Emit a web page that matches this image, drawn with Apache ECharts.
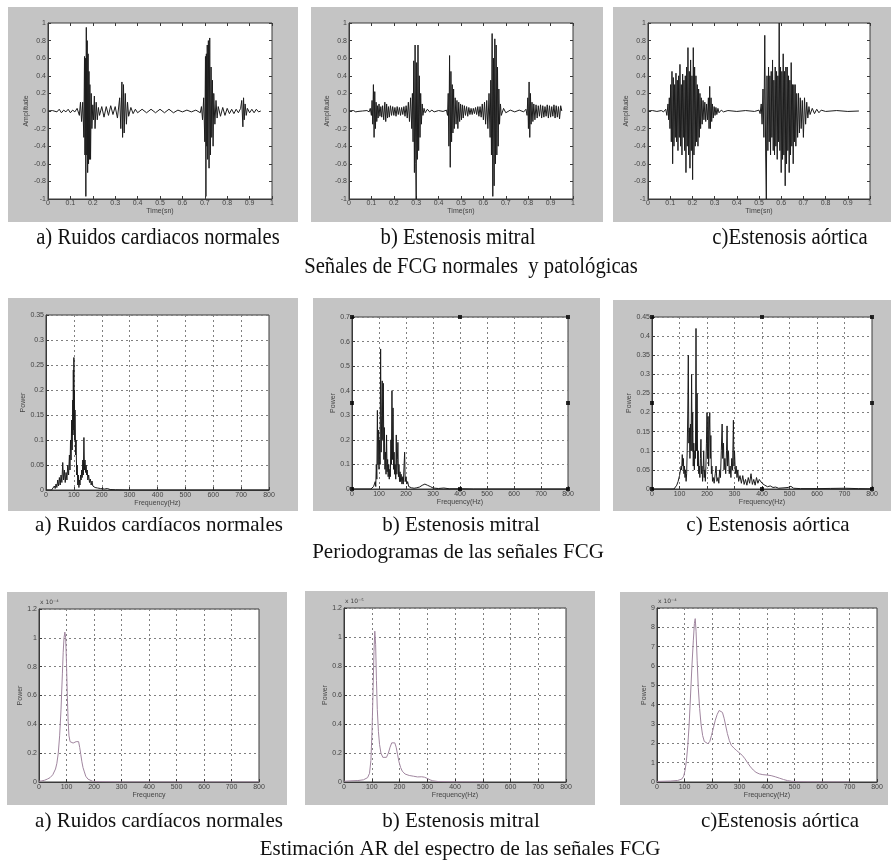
<!DOCTYPE html>
<html><head><meta charset="utf-8">
<script src="https://cdn.jsdelivr.net/npm/echarts/dist/echarts.min.js"></script>
<style>html,body{margin:0;padding:0;background:#fff}#c{width:891px;height:860px}</style>
</head><body><div id="c"></div>
<script>
// ---------- DATA ----------
// Row 1: phonocardiogram signals [time (s), amplitude]
const sigNormal = [[0,0],[0.02,0.005],[0.04,-0.01],[0.05,0.02],[0.06,-0.02],[0.07,0.01],[0.08,-0.01],[0.09,0.02],[0.1,-0.02],[0.11,0.01],[0.12,-0.01],[0.13,0.03],[0.14,-0.05],[0.145,0.1],[0.15,-0.12],[0.155,0.1],[0.16,-0.3],[0.163,0.62],[0.165,-0.5],[0.167,0.6],[0.169,-0.97],[0.171,0.95],[0.173,-0.5],[0.175,0.8],[0.177,-0.7],[0.179,0.65],[0.181,-0.6],[0.183,0.45],[0.185,-0.55],[0.187,0.3],[0.19,-0.55],[0.193,0.2],[0.196,-0.2],[0.2,0.07],[0.203,-0.1],[0.207,0.17],[0.21,-0.2],[0.215,0.1],[0.22,-0.1],[0.225,0.04],[0.23,-0.05],[0.24,0.05],[0.25,-0.07],[0.26,0.05],[0.27,-0.05],[0.28,0.06],[0.29,-0.04],[0.3,0.05],[0.31,-0.08],[0.32,0.15],[0.325,-0.2],[0.33,0.33],[0.333,-0.3],[0.337,0.3],[0.34,-0.25],[0.345,0.2],[0.35,-0.15],[0.355,0.1],[0.36,-0.06],[0.37,0.04],[0.38,-0.03],[0.39,0.02],[0.4,-0.02],[0.42,0.02],[0.44,-0.02],[0.46,0.02],[0.48,-0.02],[0.5,0.02],[0.52,-0.02],[0.54,0.02],[0.56,-0.02],[0.58,0.01],[0.6,-0.01],[0.62,0.01],[0.64,-0.01],[0.66,0.01],[0.68,-0.02],[0.685,0.05],[0.69,-0.1],[0.695,0.15],[0.7,-0.35],[0.703,0.62],[0.705,-0.97],[0.707,0.65],[0.709,-0.4],[0.711,0.75],[0.713,-0.55],[0.716,0.8],[0.719,-0.65],[0.722,0.83],[0.725,-0.5],[0.728,0.5],[0.731,-0.3],[0.734,0.35],[0.737,-0.4],[0.74,0.2],[0.745,-0.15],[0.75,0.12],[0.755,-0.08],[0.76,0.05],[0.77,-0.06],[0.78,0.04],[0.79,-0.05],[0.8,0.03],[0.81,-0.03],[0.82,0.02],[0.83,-0.03],[0.84,0.02],[0.85,-0.02],[0.86,0.03],[0.865,0.12],[0.87,-0.18],[0.873,0.15],[0.876,-0.1],[0.88,0.08],[0.885,-0.05],[0.89,0.03],[0.9,-0.02],[0.91,0.02],[0.92,-0.02],[0.93,0.02],[0.94,-0.01],[0.95,0]];
const sigMitral = [[0,0],[0.02,0.005],[0.03,-0.01],[0.035,0.01],[0.04,-0.005],[0.06,0],[0.08,0.005],[0.09,-0.01],[0.095,0.03],[0.1,-0.05],[0.103,0.12],[0.106,-0.15],[0.109,0.3],[0.112,-0.3],[0.115,0.22],[0.118,-0.2],[0.121,0.1],[0.124,-0.12],[0.127,0.06],[0.13,-0.08],[0.134,0.08],[0.138,-0.06],[0.142,0.05],[0.146,-0.07],[0.15,0.06],[0.155,-0.1],[0.16,0.1],[0.164,-0.12],[0.168,0.08],[0.172,-0.08],[0.176,0.05],[0.18,-0.07],[0.185,0.06],[0.19,-0.05],[0.195,0.05],[0.2,-0.05],[0.205,0.04],[0.21,-0.06],[0.215,0.05],[0.22,-0.04],[0.225,0.04],[0.23,-0.05],[0.235,0.04],[0.24,-0.04],[0.245,0.05],[0.25,-0.06],[0.255,0.06],[0.26,-0.08],[0.265,0.1],[0.27,-0.12],[0.275,0.15],[0.28,-0.2],[0.283,0.2],[0.286,-0.35],[0.289,0.57],[0.292,-0.7],[0.295,0.75],[0.298,-0.6],[0.3,-1.0],[0.302,0.55],[0.305,-0.55],[0.308,0.75],[0.311,-0.45],[0.314,0.4],[0.317,-0.3],[0.32,0.2],[0.323,-0.15],[0.327,0.08],[0.33,-0.05],[0.335,0.03],[0.34,-0.02],[0.35,0.02],[0.36,-0.01],[0.37,0.01],[0.38,-0.01],[0.4,0.005],[0.42,-0.005],[0.435,0.01],[0.44,-0.05],[0.443,0.2],[0.446,-0.4],[0.449,0.63],[0.452,-0.64],[0.455,0.45],[0.458,-0.35],[0.461,0.3],[0.464,-0.25],[0.467,0.25],[0.47,-0.2],[0.474,0.15],[0.478,-0.15],[0.482,0.12],[0.486,-0.2],[0.49,0.1],[0.494,-0.12],[0.498,0.08],[0.502,-0.1],[0.506,0.07],[0.51,-0.08],[0.515,0.06],[0.52,-0.05],[0.525,0.05],[0.53,-0.06],[0.535,0.04],[0.54,-0.04],[0.545,0.03],[0.55,-0.04],[0.555,0.03],[0.56,-0.03],[0.565,0.04],[0.57,-0.04],[0.575,0.05],[0.58,-0.06],[0.585,0.05],[0.59,-0.07],[0.595,0.08],[0.6,-0.1],[0.605,0.1],[0.61,-0.15],[0.615,0.12],[0.62,-0.2],[0.625,0.2],[0.63,-0.3],[0.633,0.35],[0.636,-0.5],[0.639,0.88],[0.642,-0.97],[0.645,0.6],[0.648,-0.85],[0.651,0.82],[0.654,-0.6],[0.657,0.75],[0.66,-0.5],[0.663,0.5],[0.666,-0.4],[0.669,0.25],[0.672,-0.15],[0.676,0.08],[0.68,-0.05],[0.69,0.03],[0.7,-0.02],[0.72,0.01],[0.74,-0.01],[0.76,0.01],[0.78,-0.01],[0.79,0.02],[0.795,-0.05],[0.798,0.15],[0.801,-0.2],[0.804,0.33],[0.807,-0.3],[0.81,0.2],[0.813,-0.15],[0.817,0.1],[0.821,-0.12],[0.825,0.08],[0.83,-0.1],[0.835,0.07],[0.84,-0.08],[0.845,0.06],[0.85,-0.06],[0.855,0.07],[0.86,-0.08],[0.865,0.06],[0.87,-0.07],[0.875,0.05],[0.88,-0.06],[0.885,0.07],[0.89,-0.08],[0.895,0.06],[0.9,-0.07],[0.905,0.05],[0.91,-0.06],[0.915,0.07],[0.92,-0.08],[0.925,0.06],[0.93,-0.07],[0.935,0.05],[0.94,-0.09],[0.945,0.06],[0.95,0]];
const sigAortic = [[0,0],[0.02,0.005],[0.04,-0.005],[0.06,0.005],[0.07,-0.01],[0.08,0.02],[0.085,-0.05],[0.09,0.08],[0.093,-0.1],[0.096,0.15],[0.099,-0.2],[0.102,0.3],[0.105,-0.35],[0.108,0.45],[0.111,-0.6],[0.114,0.38],[0.117,-0.4],[0.12,0.3],[0.123,-0.3],[0.126,0.43],[0.129,-0.35],[0.132,0.35],[0.135,-0.45],[0.138,0.4],[0.141,-0.3],[0.144,0.53],[0.147,-0.4],[0.15,0.3],[0.153,-0.5],[0.156,0.42],[0.159,-0.3],[0.162,0.35],[0.165,-0.45],[0.168,0.4],[0.171,-0.7],[0.174,0.5],[0.177,-0.4],[0.18,0.72],[0.183,-0.5],[0.186,0.45],[0.189,-0.65],[0.192,0.58],[0.195,-0.45],[0.198,0.4],[0.201,-0.78],[0.204,0.72],[0.207,-0.5],[0.21,0.5],[0.213,-0.4],[0.216,0.4],[0.219,-0.35],[0.222,0.3],[0.225,-0.4],[0.228,0.25],[0.231,-0.3],[0.234,0.2],[0.237,-0.2],[0.24,0.15],[0.244,-0.15],[0.248,0.12],[0.252,-0.1],[0.256,0.1],[0.26,-0.12],[0.264,0.08],[0.268,-0.1],[0.272,0.15],[0.275,-0.2],[0.278,0.28],[0.281,-0.2],[0.284,0.15],[0.287,-0.12],[0.29,0.08],[0.294,-0.08],[0.298,0.05],[0.302,-0.05],[0.306,0.04],[0.31,-0.04],[0.315,0.03],[0.32,-0.02],[0.33,0.01],[0.34,-0.01],[0.36,0.005],[0.4,-0.005],[0.44,0.005],[0.48,-0.005],[0.5,0.01],[0.505,-0.03],[0.51,0.08],[0.514,-0.15],[0.518,0.25],[0.522,-0.3],[0.526,0.86],[0.53,-0.5],[0.533,-1.0],[0.536,0.4],[0.54,-0.45],[0.543,0.5],[0.546,-0.35],[0.549,0.4],[0.552,-0.5],[0.555,0.45],[0.558,-0.3],[0.561,0.58],[0.564,-0.45],[0.567,0.35],[0.57,-0.5],[0.573,0.5],[0.576,-0.4],[0.579,0.45],[0.582,-0.55],[0.585,0.4],[0.588,-0.35],[0.591,1.0],[0.594,-0.45],[0.597,0.5],[0.6,-0.7],[0.603,0.45],[0.606,-0.55],[0.609,0.65],[0.612,-0.5],[0.615,0.45],[0.618,-0.85],[0.621,0.5],[0.624,-0.6],[0.627,0.5],[0.63,-0.45],[0.633,0.4],[0.636,-0.7],[0.639,0.35],[0.642,-0.5],[0.645,0.55],[0.648,-0.4],[0.651,0.3],[0.654,-0.6],[0.657,0.3],[0.66,-0.35],[0.663,0.3],[0.666,-0.4],[0.67,0.2],[0.674,-0.3],[0.678,0.2],[0.682,-0.25],[0.686,0.15],[0.69,-0.2],[0.695,0.12],[0.7,-0.3],[0.705,0.15],[0.71,-0.15],[0.715,0.1],[0.72,-0.08],[0.725,0.05],[0.73,-0.04],[0.74,0.03],[0.75,-0.03],[0.76,0.02],[0.77,-0.02],[0.78,0.01],[0.8,-0.005],[0.85,0.005],[0.9,-0.005],[0.95,0]];

// Row 2: periodograms [frequency (Hz), power]
const perNormal = [[0,0],[20,0],[25,0.002],[30,0.008],[33,0.003],[36,0.012],[39,0.005],[42,0.02],[45,0.008],[48,0.025],[51,0.01],[54,0.03],[57,0.015],[60,0.055],[63,0.02],[66,0.04],[69,0.015],[72,0.035],[75,0.02],[78,0.05],[81,0.03],[84,0.07],[86,0.04],[88,0.1],[90,0.06],[92,0.14],[94,0.08],[96,0.18],[97,0.11],[98,0.24],[99,0.12],[100,0.265],[101,0.14],[102,0.2],[103,0.1],[104,0.16],[106,0.07],[108,0.1],[110,0.03],[112,0.05],[114,0.01],[116,0.03],[118,0.005],[120,0.02],[122,0.01],[124,0.03],[126,0.02],[128,0.04],[130,0.025],[132,0.06],[134,0.03],[136,0.105],[138,0.04],[140,0.06],[142,0.035],[144,0.05],[146,0.03],[148,0.04],[150,0.02],[153,0.03],[156,0.015],[159,0.022],[162,0.01],[165,0.018],[168,0.008],[172,0.012],[176,0.005],[180,0.008],[185,0.004],[190,0.005],[195,0.003],[200,0.004],[210,0.002],[220,0.003],[230,0.001],[250,0.0005],[300,0],[800,0]];
const perMitral = [[0,0],[70,0],[75,0.003],[80,0.01],[83,0.005],[86,0.03],[88,0.01],[90,0.1],[92,0.04],[94,0.32],[96,0.1],[98,0.24],[100,0.08],[102,0.2],[104,0.1],[106,0.57],[108,0.15],[110,0.3],[112,0.44],[114,0.2],[116,0.43],[118,0.12],[120,0.25],[122,0.08],[124,0.15],[126,0.06],[128,0.22],[130,0.07],[132,0.12],[134,0.05],[136,0.1],[138,0.04],[140,0.08],[142,0.05],[144,0.2],[146,0.1],[148,0.4],[150,0.12],[152,0.33],[154,0.08],[156,0.15],[158,0.06],[160,0.1],[162,0.04],[164,0.22],[166,0.06],[168,0.12],[170,0.19],[172,0.05],[174,0.1],[176,0.03],[178,0.07],[180,0.03],[182,0.06],[185,0.02],[188,0.05],[190,0.02],[193,0.1],[195,0.15],[197,0.03],[200,0.05],[203,0.02],[206,0.03],[210,0.01],[215,0.015],[220,0.005],[225,0.008],[230,0.003],[240,0.005],[250,0.008],[255,0.004],[260,0.015],[265,0.01],[270,0.02],[275,0.028],[280,0.015],[285,0.022],[290,0.01],[295,0.012],[300,0.004],[320,0.002],[340,0.004],[360,0.001],[400,0.001],[450,0],[800,0]];
const perAortic = [[0,0],[80,0],[85,0.004],[90,0.01],[95,0.02],[100,0.035],[103,0.03],[106,0.06],[108,0.05],[110,0.09],[112,0.06],[114,0.08],[116,0.04],[118,0.06],[120,0.03],[122,0.05],[124,0.02],[126,0.04],[128,0.1],[130,0.2],[132,0.35],[134,0.12],[136,0.16],[138,0.08],[140,0.17],[142,0.1],[144,0.3],[146,0.1],[148,0.2],[150,0.06],[152,0.12],[154,0.05],[156,0.1],[158,0.08],[160,0.42],[162,0.1],[164,0.25],[166,0.06],[168,0.1],[170,0.04],[172,0.06],[174,0.03],[176,0.08],[178,0.13],[180,0.04],[182,0.06],[184,0.02],[186,0.05],[188,0.1],[190,0.03],[192,0.05],[194,0.02],[196,0.06],[198,0.12],[200,0.2],[202,0.08],[204,0.19],[206,0.06],[208,0.15],[210,0.2],[212,0.08],[214,0.14],[216,0.04],[218,0.06],[220,0.02],[223,0.03],[226,0.015],[230,0.04],[233,0.06],[236,0.02],[240,0.03],[243,0.015],[246,0.05],[249,0.03],[252,0.1],[255,0.17],[257,0.08],[260,0.12],[262,0.05],[265,0.08],[268,0.04],[271,0.1],[273,0.165],[275,0.06],[278,0.1],[281,0.04],[284,0.06],[287,0.03],[290,0.08],[293,0.05],[296,0.18],[298,0.06],[300,0.1],[303,0.04],[306,0.06],[309,0.03],[312,0.05],[315,0.02],[320,0.035],[325,0.015],[330,0.035],[335,0.012],[340,0.025],[345,0.01],[350,0.03],[355,0.015],[360,0.04],[365,0.012],[370,0.025],[375,0.01],[380,0.03],[385,0.015],[390,0.025],[395,0.03],[400,0.015],[405,0.02],[410,0.01],[415,0.015],[420,0.006],[430,0.008],[440,0.004],[450,0.005],[460,0.002],[480,0.003],[495,0.004],[505,0.007],[515,0.002],[540,0.001],[600,0.001],[650,0.0015],[700,0.002],[750,0.001],[800,0.0005]];
// selection handles drawn on the periodogram frames b) and c)
const handlesMitral = [[0,0],[400,0],[800,0],[0,0.35],[800,0.35],[0,0.7],[400,0.7],[800,0.7]];
const handlesAortic = [[0,0],[400,0],[800,0],[0,0.225],[800,0.225],[0,0.45],[400,0.45],[800,0.45]];

// Row 3: AR spectral estimates [frequency (Hz), power in units of the axis exponent]
const arNormal = [[0,0.005],[10,0.008],[20,0.012],[30,0.02],[40,0.03],[50,0.05],[60,0.09],[65,0.13],[70,0.2],[75,0.32],[80,0.5],[85,0.75],[88,0.9],[91,1.0],[94,1.04],[97,1.0],[100,0.82],[103,0.6],[106,0.42],[109,0.32],[113,0.28],[118,0.27],[124,0.27],[130,0.27],[135,0.28],[140,0.29],[144,0.28],[148,0.24],[152,0.19],[156,0.14],[160,0.1],[165,0.07],[170,0.04],[178,0.02],[185,0.01],[195,0.005],[210,0.003],[230,0.002],[260,0.001],[300,0],[800,0]];
const arMitral = [[0,0.005],[25,0.008],[50,0.01],[70,0.015],[85,0.03],[92,0.06],[97,0.15],[101,0.35],[105,0.65],[108,0.9],[111,1.04],[114,0.95],[117,0.7],[120,0.5],[124,0.35],[128,0.26],[133,0.2],[140,0.17],[147,0.165],[153,0.17],[160,0.2],[166,0.24],[172,0.27],[178,0.28],[183,0.27],[188,0.24],[193,0.19],[198,0.14],[204,0.1],[210,0.075],[220,0.055],[235,0.045],[250,0.04],[265,0.035],[280,0.036],[290,0.033],[300,0.025],[310,0.015],[320,0.008],[340,0.003],[380,0.001],[450,0],[500,0]];
const arAortic = [[0,0.03],[25,0.04],[50,0.05],[75,0.08],[90,0.15],[97,0.3],[102,0.6],[107,1.1],[112,1.9],[117,3.0],[122,4.5],[127,6.0],[132,7.3],[136,8.2],[139,8.45],[142,7.8],[146,6.3],[150,4.9],[155,3.8],[160,3.0],[166,2.4],[172,2.1],[178,2.0],[185,1.98],[192,2.1],[198,2.4],[205,2.8],[212,3.2],[219,3.5],[226,3.7],[232,3.72],[238,3.6],[244,3.3],[250,2.9],[256,2.5],[263,2.15],[270,1.9],[280,1.75],[290,1.62],[300,1.5],[310,1.38],[320,1.2],[330,0.98],[340,0.78],[350,0.62],[360,0.5],[372,0.42],[385,0.38],[400,0.36],[415,0.33],[430,0.27],[445,0.2],[460,0.13],[475,0.07],[490,0.035],[510,0.015],[550,0.005],[600,0.002],[700,0]];

// Axis ranges [min, max, interval]
const timeRange = [0, 1, 0.1];
const ampRange = [-1, 1, 0.2];
const freqRange = [0, 800, 100];
const perRangeNormal = [0, 0.35, 0.05];
const perRangeMitral = [0, 0.7, 0.1];
const perRangeAortic = [0, 0.45, 0.05];
const arRangeNormal = [0, 1.2, 0.2];
const arRangeMitral = [0, 1.2, 0.2];
const arRangeAortic = [0, 9, 1];

// Texts
const axisNames = {time:'Time(sn)', amp:'Amplitude', freqHz:'Frequency(Hz)', freq:'Frequency', power:'Power'};
const exponents = ['x 10⁻⁴', 'x 10⁻⁵', 'x 10⁻⁴'];
const captionsRow1 = ['a) Ruidos cardiacos normales', 'b) Estenosis mitral', 'c)Estenosis aórtica', 'Señales de FCG normales  y patológicas'];
const captionsRow2 = ['a) Ruidos cardíacos normales', 'b) Estenosis mitral', 'c) Estenosis aórtica', 'Periodogramas de las señales FCG'];
const captionsRow3 = ['a) Ruidos cardíacos normales', 'b) Estenosis mitral', 'c)Estenosis aórtica', 'Estimación AR del espectro de las señales FCG'];

// ---------- LAYOUT ----------
const DARK = '#1c1c1c', MAUVE = '#a0869f';
const panels = [
  {g:[48,23,224,176], bg:[8,7,290,215], x:timeRange, y:ampRange, xn:axisNames.time, yn:axisNames.amp, xm:1, xg:9, yg:16, data:sigNormal, color:DARK, grid:false, mirror:true},
  {g:[349,23,224,176], bg:[311,7,292,215], x:timeRange, y:ampRange, xn:axisNames.time, yn:axisNames.amp, xm:1, xg:9, yg:12, data:sigMitral, color:DARK, grid:false, mirror:true},
  {g:[648,23,222,176], bg:[613,7,278,215], x:timeRange, y:ampRange, xn:axisNames.time, yn:axisNames.amp, xm:1, xg:9, yg:15, data:sigAortic, color:DARK, grid:false, mirror:true},
  {g:[46,315,223,175], bg:[8,298,290,213], x:freqRange, y:perRangeNormal, xn:axisNames.freqHz, yn:axisNames.power, xm:2, xg:10, yg:17, data:perNormal, color:DARK, grid:true},
  {g:[352,317,216,172], bg:[313,298,287,213], x:freqRange, y:perRangeMitral, xn:axisNames.freqHz, yn:axisNames.power, xm:2, xg:10, yg:15, data:perMitral, color:DARK, grid:true, handles:handlesMitral},
  {g:[652,317,220,172], bg:[613,300,278,211], x:freqRange, y:perRangeAortic, xn:axisNames.freqHz, yn:axisNames.power, xm:2, xg:10, yg:18, data:perAortic, color:DARK, grid:true, handles:handlesAortic},
  {g:[39,609,220,173], bg:[7,592,280,213], x:freqRange, y:arRangeNormal, xn:axisNames.freq, yn:axisNames.power, xm:2, xg:10, yg:14, data:arNormal, color:MAUVE, grid:true, exp:exponents[0]},
  {g:[344,608,222,174], bg:[305,591,290,214], x:freqRange, y:arRangeMitral, xn:axisNames.freqHz, yn:axisNames.power, xm:2, xg:10, yg:11, data:arMitral, color:MAUVE, grid:true, exp:exponents[1]},
  {g:[657,608,220,174], bg:[620,592,268,213], x:freqRange, y:arRangeAortic, xn:axisNames.freqHz, yn:axisNames.power, xm:2, xg:10, yg:8, data:arAortic, color:MAUVE, grid:true, exp:exponents[2]}
];
const captionPos = [
  {texts:captionsRow1, xs:[158,458,790,471], y:[238,267], size:24, sx:0.86},
  {texts:captionsRow2, xs:[159,461,768,458], y:[525,552], size:21, sx:1},
  {texts:captionsRow3, xs:[159,461,780,460], y:[821,849], size:21, sx:1}
];

// ---------- BUILD ----------
const SANS = 'Liberation Sans';
const lab = {fontSize:7, color:'#444', fontFamily:SANS};
const grid=[], xAxis=[], yAxis=[], series=[], graphic=[];
panels.forEach((p,i)=>{
  graphic.push({type:'rect', z:-5, shape:{x:p.bg[0], y:p.bg[1], width:p.bg[2], height:p.bg[3]}, style:{fill:'#c4c4c4'}});
  grid.push({left:p.g[0], top:p.g[1], width:p.g[2], height:p.g[3], show:true, backgroundColor:'#fff', borderColor:'#3a3a3a', borderWidth:1});
  const split = {show:p.grid, lineStyle:{color:'#808080', type:[2,3], width:1}};
  const tick = {show:true, inside:true, length:3, lineStyle:{color:'#3a3a3a'}};
  const xi = xAxis.length, yi = yAxis.length;
  xAxis.push({type:'value', gridIndex:i, min:p.x[0], max:p.x[1], interval:p.x[2], name:p.xn, nameLocation:'middle', nameGap:p.xg, nameTextStyle:lab,
    axisLine:{show:true, onZero:false, lineStyle:{color:'#3a3a3a'}}, axisTick:tick, axisLabel:Object.assign({margin:p.xm}, lab), splitLine:split});
  yAxis.push({type:'value', gridIndex:i, min:p.y[0], max:p.y[1], interval:p.y[2], name:p.yn, nameLocation:'middle', nameGap:p.yg, nameRotate:90, nameTextStyle:lab,
    axisLine:{show:true, onZero:false, lineStyle:{color:'#3a3a3a'}}, axisTick:tick, axisLabel:Object.assign({margin:2}, lab), splitLine:split});
  if (p.mirror) {
    xAxis.push({type:'value', gridIndex:i, position:'top', min:p.x[0], max:p.x[1], interval:p.x[2], axisLine:{show:false, onZero:false}, axisTick:tick, axisLabel:{show:false}, splitLine:{show:false}});
    yAxis.push({type:'value', gridIndex:i, position:'right', min:p.y[0], max:p.y[1], interval:p.y[2], axisLine:{show:false, onZero:false}, axisTick:tick, axisLabel:{show:false}, splitLine:{show:false}});
  }
  series.push({type:'line', xAxisIndex:xi, yAxisIndex:yi, data:p.data, showSymbol:false, symbol:'none', lineStyle:{color:p.color, width:1}, animation:false, silent:true});
  if (p.handles) {
    series.push({type:'scatter', xAxisIndex:xi, yAxisIndex:yi, data:p.handles, symbol:'rect', symbolSize:4, itemStyle:{color:'#000'}, clip:false, z:5, animation:false, silent:true});
  }
  if (p.exp) {
    graphic.push({type:'text', z:10, x:p.g[0]+1, y:p.g[1]-7, style:{text:p.exp, font:'6px "DejaVu Sans"', fill:'#444', textAlign:'left', textVerticalAlign:'middle', verticalAlign:'middle'}});
  }
});
captionPos.forEach(r=>{
  r.texts.forEach((t,k)=>{
    graphic.push({type:'text', z:10, x:r.xs[k], y:(k<3?r.y[0]:r.y[1]), scaleX:r.sx,
      style:{text:t, font:r.size+'px "Liberation Serif"', fill:'#111', textAlign:'center', textVerticalAlign:'middle', verticalAlign:'middle'}});
  });
});

const chart = echarts.init(document.getElementById('c'), null, {renderer:'canvas'});
chart.setOption({animation:false, backgroundColor:'#fff', grid, xAxis, yAxis, series, graphic});
</script></body></html>
